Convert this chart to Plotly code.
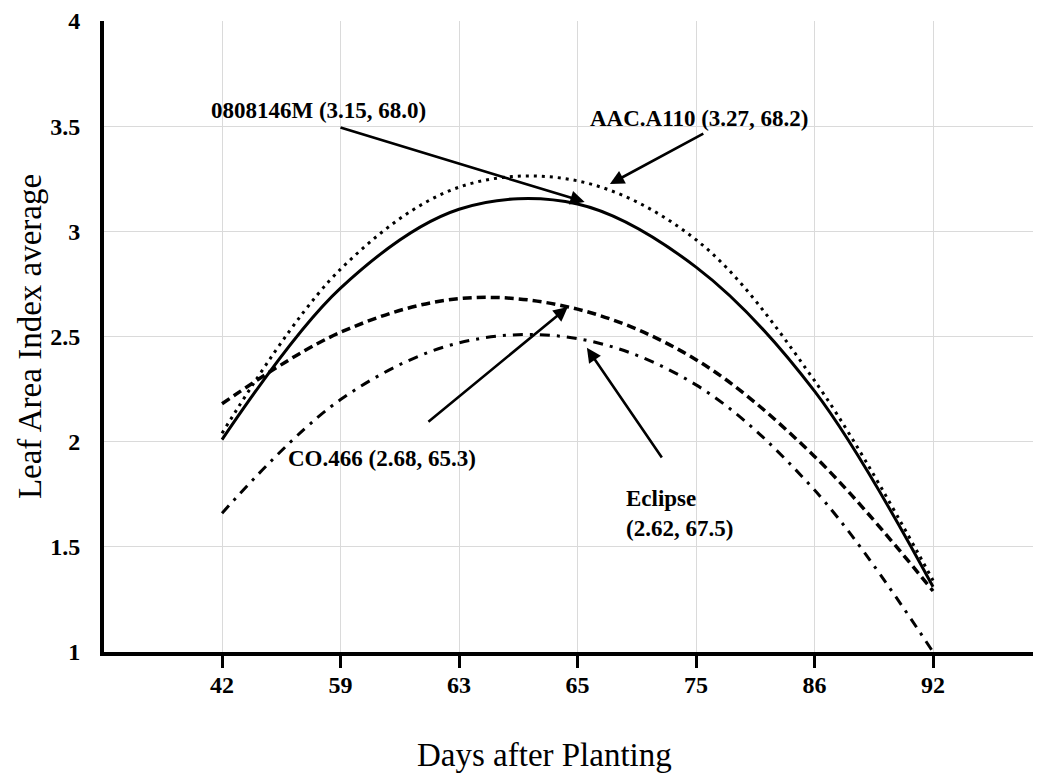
import plotly.graph_objects as go

# ---- data ----
days = ["42", "59", "63", "65", "75", "86", "92"]
lai_0808146M = [2.01, 2.73, 3.105, 3.13, 2.83, 2.24, 1.31]
lai_AAC_A110 = [2.04, 2.82, 3.21, 3.24, 2.96, 2.29, 1.34]
lai_CO466 = [2.18, 2.52, 2.68, 2.63, 2.39, 1.93, 1.29]
lai_Eclipse = [1.66, 2.20, 2.47, 2.49, 2.27, 1.77, 1.00]

y_ticks = [1, 1.5, 2, 2.5, 3, 3.5, 4]
y_ticktext = ["1", "1.5", "2", "2.5", "3", "3.5", "4"]

SERIF = "Liberation Serif, Times New Roman, serif"

fig = go.Figure()

fig.add_trace(go.Scatter(x=days, y=lai_AAC_A110, mode="lines", name="AAC.A110",
                         line=dict(color="black", width=3, dash="3px,5px", shape="spline")))
fig.add_trace(go.Scatter(x=days, y=lai_0808146M, mode="lines", name="0808146M",
                         line=dict(color="black", width=3, shape="spline")))
fig.add_trace(go.Scatter(x=days, y=lai_CO466, mode="lines", name="CO.466",
                         line=dict(color="black", width=3.5, dash="9px,5px", shape="spline")))
fig.add_trace(go.Scatter(x=days, y=lai_Eclipse, mode="lines", name="Eclipse",
                         line=dict(color="black", width=3, dash="10px,7px,3px,7px", shape="spline")))

lab_font = dict(family=SERIF, size=23, color="black")

def label(text, x, y, xanchor="center", align="center"):
    fig.add_annotation(x=x, y=y, xref="x", yref="y", text=text, showarrow=False,
                       font=lab_font, xanchor=xanchor, yanchor="middle", align=align)

def arrow(x_tip, y_tip, x_tail, y_tail):
    fig.add_annotation(x=x_tip, y=y_tip, ax=x_tail, ay=y_tail, xref="x", yref="y",
                       axref="x", ayref="y", text="", showarrow=True,
                       arrowhead=2, arrowsize=1.1, arrowwidth=2.6, arrowcolor="black",
                       standoff=0, startstandoff=0)

label("<b>0808146M (3.15, 68.0)</b>", 0.81, 3.575)
arrow(3.06, 3.14, 0.987, 3.496)

label("<b>AAC.A110 (3.27, 68.2)</b>", 4.03, 3.535)
arrow(3.273, 3.225, 4.074, 3.468)

label("<b>CO.466 (2.68, 65.3)</b>", 1.354, 1.918)
arrow(2.918, 2.640, 1.729, 2.089)

label("<b>Eclipse<br>(2.62, 67.5)</b>", 3.39, 1.66, xanchor="left", align="left")
arrow(3.079, 2.446, 3.720, 1.918)

# x-axis title as a paper-positioned text (centred where the reference puts it)
fig.add_annotation(text="Days after Planting", xref="paper", yref="paper",
                   x=0.4705, y=-0.1625, xanchor="center", yanchor="middle", showarrow=False,
                   font=dict(family=SERIF, size=33, color="black"))

fig.update_layout(
    width=1033, height=767,
    margin=dict(l=96, r=0, t=13, b=123),
    paper_bgcolor="white", plot_bgcolor="white",
    showlegend=False,
    font=dict(family=SERIF, color="black"),
)

fig.update_xaxes(
    type="category", categoryorder="array", categoryarray=days,
    range=[-0.996, 6.911], automargin=False,
    showline=True, linewidth=4, linecolor="black",
    showgrid=True, gridcolor="#dadada", gridwidth=1, zeroline=False,
    ticks="outside", ticklen=12, tickwidth=3, tickcolor="black",
    ticklabelstandoff=-4,
    tickfont=dict(family=SERIF, size=24, color="black", weight="bold"),
)

fig.update_yaxes(
    range=[1, 4], tickvals=y_ticks, ticktext=y_ticktext, automargin=False,
    showline=True, linewidth=4, linecolor="black",
    showgrid=True, gridcolor="#dadada", gridwidth=1, zeroline=False,
    ticks="", ticklabelstandoff=15,
    tickfont=dict(family=SERIF, size=24, color="black", weight="bold"),
    title=dict(text="Leaf Area Index average", font=dict(family=SERIF, size=33, color="black"),
               standoff=0),
)

fig.write_html("out.html")
